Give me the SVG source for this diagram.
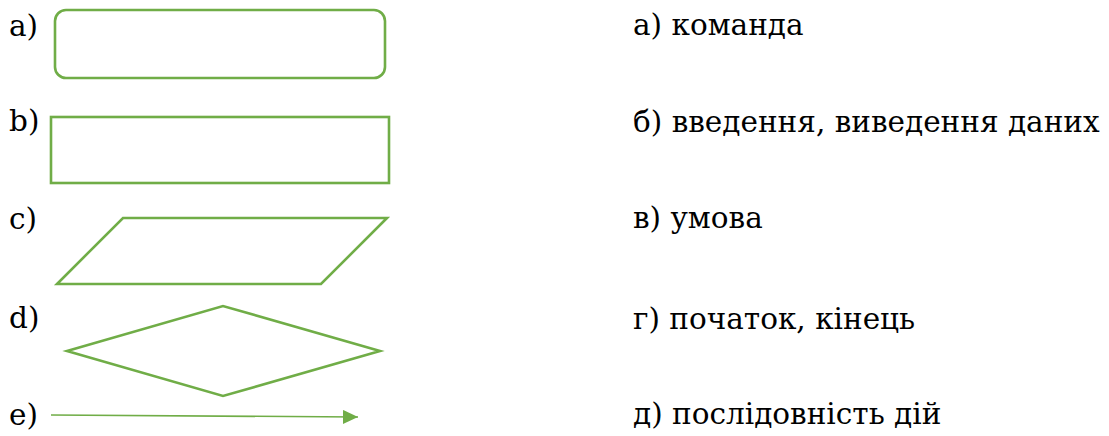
<svg xmlns="http://www.w3.org/2000/svg" width="1109" height="436" viewBox="0 0 1109 436">
  <style>
    .shape { fill: none; stroke: #70AD47; stroke-width: 2.6; stroke-linejoin: miter; }
    .flow { stroke: #70AD47; stroke-width: 1.6; fill: none; }
  </style>
  <defs>
    <marker id="arrowhead" viewBox="0 0 15 14" refX="15" refY="7" markerWidth="15" markerHeight="14" markerUnits="userSpaceOnUse" orient="auto">
      <path d="M0,0 L15,7 L0,14 Z" fill="#70AD47"/>
    </marker>
  </defs>

  <rect width="1109" height="436" fill="#fff"/>

  <!-- left column: shape letters -->
  <g id="letters" font-family="DejaVu Serif, serif" font-size="29.5" fill="#000">
    <text x="9" y="36">a)</text>
    <text x="9" y="131">b)</text>
    <text x="9" y="229">c)</text>
    <text x="9" y="328">d)</text>
    <text x="9" y="425">e)</text>
  </g>

  <g id="terminator">
    <rect class="shape" x="55" y="10" width="330" height="68" rx="11" ry="11"/>
  </g>

  <g id="process">
    <rect class="shape" x="51" y="117" width="338" height="66"/>
  </g>

  <g id="data">
    <polygon class="shape" points="123,218 387,218 321,284 57,284"/>
  </g>

  <g id="decision">
    <polygon class="shape" points="67,351 223,306 380,351 223,396"/>
  </g>

  <g id="connectors">
    <line class="flow" x1="51" y1="415" x2="358" y2="417" marker-end="url(#arrowhead)"/>
  </g>

  <!-- right column: meanings -->
  <g id="meanings" font-family="DejaVu Serif, serif" font-size="29.5" fill="#000">
    <text x="633" y="35">а) команда</text>
    <text x="633" y="132">б) введення, виведення даних</text>
    <text x="633" y="228">в) умова</text>
    <text x="633" y="329">г) початок, кінець</text>
    <text x="633" y="424">д) послідовність дій</text>
  </g>
</svg>
